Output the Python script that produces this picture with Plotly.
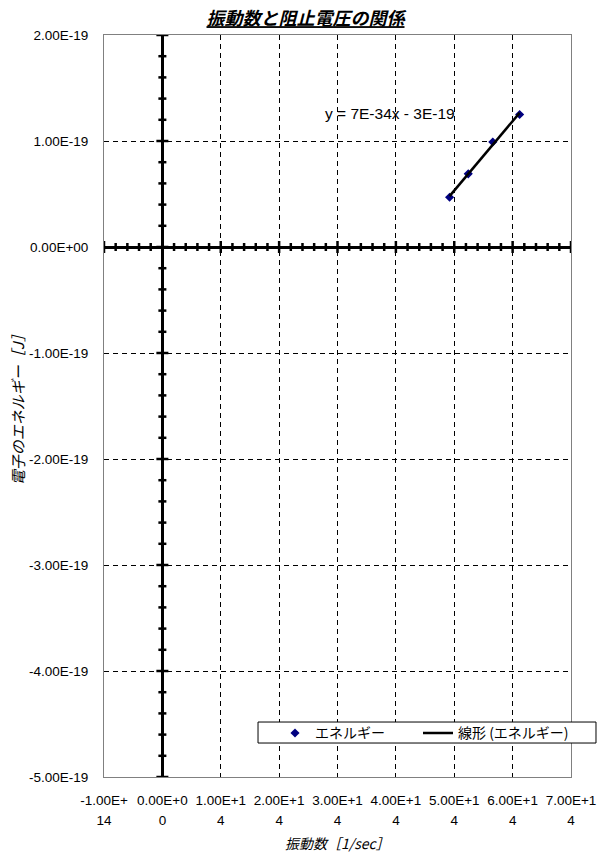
import numpy as np
import plotly.graph_objects as go

# ---- data ----
freq = [4.92e14, 5.24e14, 5.66e14, 6.12e14]          # 振動数 [1/sec]
energy = [0.47e-19, 0.69e-19, 0.99e-19, 1.25e-19]    # 電子のエネルギー [J]

x_tickvals = [-1e14, 0, 1e14, 2e14, 3e14, 4e14, 5e14, 6e14, 7e14]
x_ticktext_line1 = ["-1.00E+", "0.00E+0", "1.00E+1", "2.00E+1", "3.00E+1",
                    "4.00E+1", "5.00E+1", "6.00E+1", "7.00E+1"]
x_ticktext_line2 = ["14", "0", "4", "4", "4", "4", "4", "4", "4"]
y_tickvals = [2e-19, 1e-19, 0, -1e-19, -2e-19, -3e-19, -4e-19, -5e-19]
y_ticktext = ["2.00E-19", "1.00E-19", "0.00E+00", "-1.00E-19", "-2.00E-19",
              "-3.00E-19", "-4.00E-19", "-5.00E-19"]

title_text = "振動数と阻止電圧の関係"
x_title = "振動数［1/sec］"
y_title = "電子のエネルギー［J］"
eq_text = "y = 7E-34x - 3E-19"
series_name = "エネルギー"
trend_name = "線形 (エネルギー)"

# linear trendline (least squares)
slope, intercept = np.polyfit(freq, energy, 1)
tx = np.array([min(freq), max(freq)])
ty = slope * tx + intercept

FONT = "Liberation Sans, Noto Sans CJK JP"
JFONT = "Noto Sans CJK JP"
XRANGE = [-1e14, 7e14]

fig = go.Figure()
fig.add_trace(go.Scatter(x=freq, y=energy, mode="markers", name=series_name + "\u3000\u3000",
                         marker=dict(symbol="diamond", size=7, color="#000080")))
fig.add_trace(go.Scatter(x=tx, y=ty, mode="lines", name=trend_name,
                         line=dict(color="black", width=2.5)))
# invisible helper trace so the second-line tick-label axis is drawn
fig.add_trace(go.Scatter(x=[None], y=[None], xaxis="x2", yaxis="y", mode="markers",
                         showlegend=False, hoverinfo="skip"))

shapes = []
# ticks on the horizontal axis (y=0)
for i in range(-5, 36):
    xv = i * 0.2e14
    major = (i % 5 == 0)
    h = 6 if major else 4
    shapes.append(dict(type="line", xref="x", yref="y", ysizemode="pixel", yanchor=0,
                       x0=xv, x1=xv, y0=-h, y1=h, line=dict(color="black", width=2.5)))
# ticks on the vertical axis (x=0)
for j in range(-25, 11):
    yv = j * 0.2e-19
    major = (j % 5 == 0)
    w = 6 if major else 4
    shapes.append(dict(type="line", xref="x", yref="y", xsizemode="pixel", xanchor=0,
                       x0=-w, x1=w, y0=yv, y1=yv, line=dict(color="black", width=2.5)))
# legend box
shapes.append(dict(type="rect", xref="paper", yref="paper", x0=0.3298, x1=1.0535,
                   y0=0.0458, y1=0.0741, fillcolor="white",
                   line=dict(color="black", width=1), layer="above"))

fig.update_layout(
    width=611, height=857,
    margin=dict(l=104, r=40, t=35, b=80, autoexpand=False),
    paper_bgcolor="white", plot_bgcolor="white",
    font=dict(family=FONT, size=13, color="black"),
    title=dict(text="<b><i><u>" + title_text + "</u></i></b>", x=0.5, xref="container",
               xanchor="center", y=0.978, yref="container", yanchor="middle",
               font=dict(family=JFONT, size=18, color="black")),
    shapes=shapes,
    showlegend=True,
    legend=dict(orientation="h", xref="container", x=275 / 611, xanchor="left",
                y=0.0804, yanchor="top",
                bgcolor="rgba(0,0,0,0)", borderwidth=0,
                font=dict(family=JFONT, size=14),
                itemwidth=30, tracegroupgap=0),
    annotations=[
        dict(text=eq_text, x=3.9e14, y=1.255e-19, xref="x", yref="y", showarrow=False,
             font=dict(family=FONT, size=15.5)),
        dict(text="<i>" + x_title + "</i>", x=0.5, y=-0.089, xref="paper", yref="paper",
             showarrow=False, xanchor="center", yanchor="middle",
             font=dict(family=JFONT, size=14)),
        dict(text="<i>" + y_title + "</i>", x=-0.186, y=0.5, xref="paper", yref="paper",
             showarrow=False, xanchor="center", yanchor="middle", textangle=-90,
             font=dict(family=JFONT, size=15)),
    ],
    xaxis=dict(range=XRANGE, tickvals=x_tickvals, ticktext=x_ticktext_line1,
               showgrid=True, gridcolor="black", gridwidth=1, griddash="5px,4px",
               zeroline=True, zerolinecolor="black", zerolinewidth=3,
               showline=True, linecolor="#808080", linewidth=1, mirror=True,
               ticks="inside", ticklen=4, tickcolor="black", ticklabelstandoff=11,
               tickfont=dict(family=FONT, size=13.5)),
    xaxis2=dict(overlaying="x", side="bottom", anchor="y", range=XRANGE,
                tickvals=x_tickvals, ticktext=x_ticktext_line2, showgrid=False,
                zeroline=False, showline=False, ticks="", ticklabelstandoff=33,
                tickfont=dict(family=FONT, size=13.5)),
    yaxis=dict(range=[-5e-19, 2e-19], tickvals=y_tickvals, ticktext=y_ticktext,
               showgrid=True, gridcolor="black", gridwidth=1, griddash="5px,4px",
               zeroline=True, zerolinecolor="black", zerolinewidth=3,
               showline=True, linecolor="#808080", linewidth=1, mirror=True,
               ticks="inside", ticklen=4, tickcolor="black", ticklabelstandoff=12,
               tickfont=dict(family=FONT, size=13.5)),
)

fig.write_html("out.html", config={"displayModeBar": False},
               post_script="document.body.style.margin='0';")
